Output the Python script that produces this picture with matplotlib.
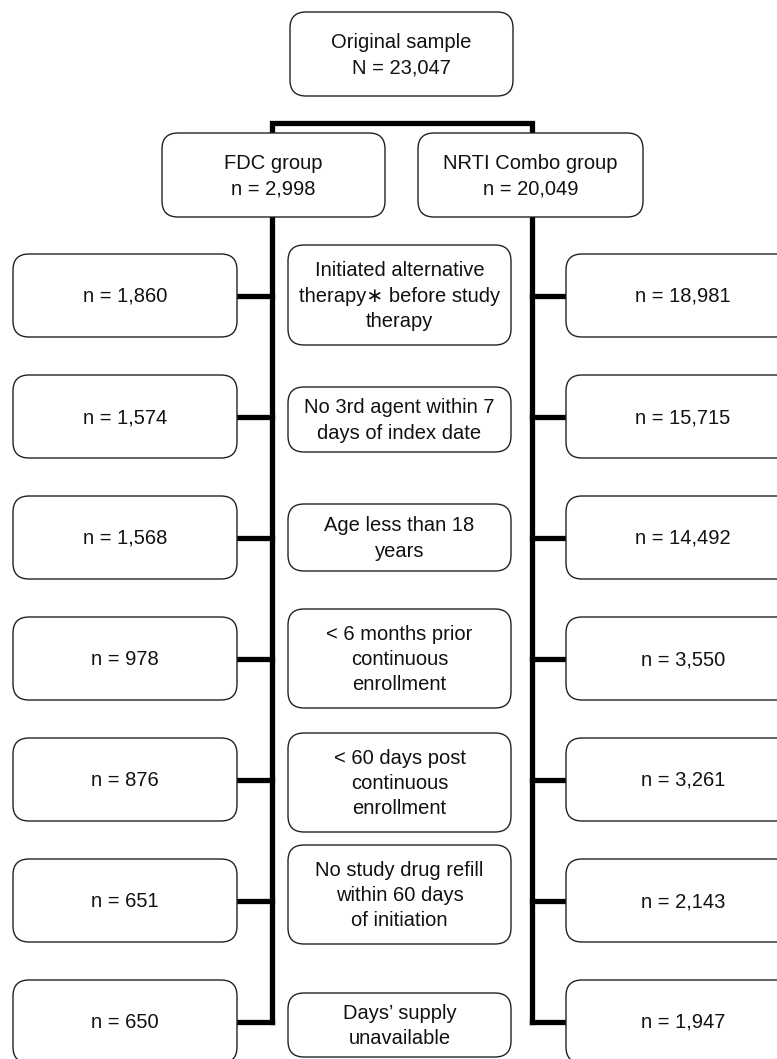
import matplotlib.pyplot as plt
from matplotlib.patches import FancyBboxPatch

# flowchart content
top_label = "Original sample\nN = 23,047"
group_labels = ["FDC group\nn = 2,998", "NRTI Combo group\nn = 20,049"]
criteria = [
    "Initiated alternative\ntherapy\u2217 before study\ntherapy",
    "No 3rd agent within 7\ndays of index date",
    "Age less than 18\nyears",
    "< 6 months prior\ncontinuous\nenrollment",
    "< 60 days post\ncontinuous\nenrollment",
    "No study drug refill\nwithin 60 days\nof initiation",
    "Days\u2019 supply\nunavailable",
]
fdc_counts = [1860, 1574, 1568, 978, 876, 651, 650]
nrti_counts = [18981, 15715, 14492, 3550, 3261, 2143, 1947]

plt.rcParams['font.family'] = ['Liberation Sans', 'DejaVu Sans']
W, H = 777, 1059
fig = plt.figure(figsize=(W / 100, H / 100), dpi=100)
ax = fig.add_axes([0, 0, 1, 1])
ax.set_xlim(0, W)
ax.set_ylim(H, 0)
ax.axis('off')

FS = 14.5


def box(x0, x1, y0, y1, text):
    p = FancyBboxPatch((x0, y0), x1 - x0, y1 - y0,
                       boxstyle="round,pad=0,rounding_size=16",
                       facecolor='white', edgecolor='#222222', lw=1.0, zorder=3)
    ax.add_patch(p)
    ax.text((x0 + x1) / 2, (y0 + y1) / 2 + 1, text, ha='center', va='center',
            multialignment='center', fontsize=FS, linespacing=1.42, zorder=4,
            color='#111111')


def line(xs, ys):
    ax.plot(xs, ys, color='black', lw=3.8, solid_capstyle='projecting',
            solid_joinstyle='miter', zorder=2)


# geometry
left_x, right_x = 272, 532
row0, row_step = 296, 121
rows = [row0 + row_step * i for i in range(len(criteria))]
mid_spans = [(245, 345), (387, 452), (504, 571), (609, 708),
             (733, 832), (845, 944), (993, 1057)]

# trunk lines
line([left_x, left_x, right_x, right_x], [rows[-1], 123, 123, rows[-1]])
for y in rows:
    line([237, left_x], [y, y])
    line([right_x, 566], [y, y])

box(290, 513, 12, 96, top_label)
box(162, 385, 133, 217, group_labels[0])
box(418, 643, 133, 217, group_labels[1])

for i, y in enumerate(rows):
    box(13, 237, y - 42, y + 41, f"n = {fdc_counts[i]:,}")
    box(566, 800, y - 42, y + 41, f"n = {nrti_counts[i]:,}")
    y0, y1 = mid_spans[i]
    box(288, 511, y0, y1, criteria[i])

fig.savefig('out.png', dpi=100)
